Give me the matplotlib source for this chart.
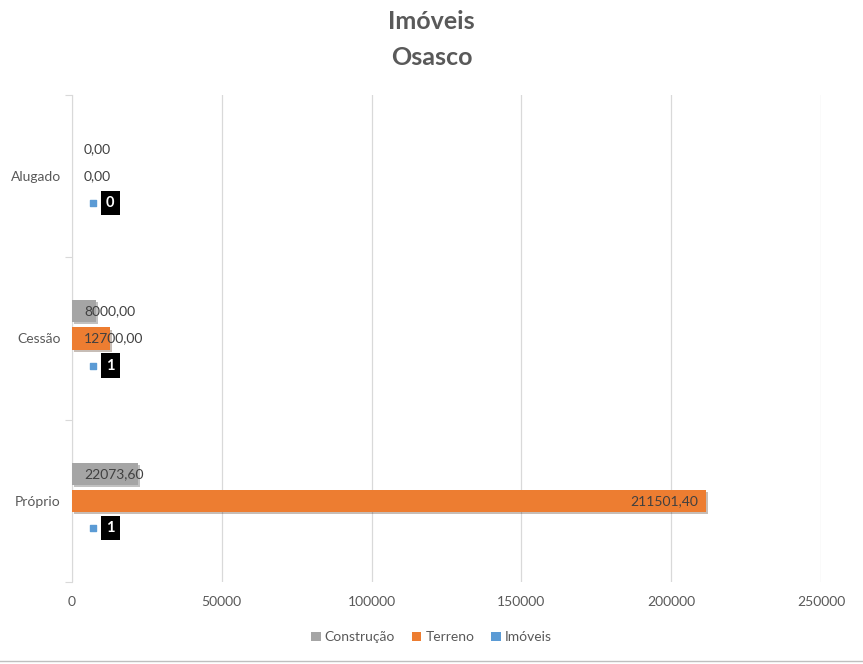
import numpy as np
import matplotlib.pyplot as plt
import matplotlib.patheffects as pe
from matplotlib.patches import Patch
from matplotlib.lines import Line2D

plt.rcParams['font.family'] = ['Lato', 'DejaVu Sans']

# Data
categories = ["Próprio", "Cessão", "Alugado"]
construcao = [22073.60, 8000.00, 0.00]
terreno = [211501.40, 12700.00, 0.00]
imoveis = [1, 1, 0]

series = ["Construção", "Terreno", "Imóveis"]
colors = ["#A5A5A5", "#ED7D31", "#5B9BD5"]
text_gray = "#595959"

fig = plt.figure(figsize=(8.63, 6.64), dpi=100)
ax = fig.add_axes([0.0834, 0.1235, 0.8679, 0.7335])

y = np.arange(len(categories))
off = 0.167
h = 0.136
shadow = [pe.SimplePatchShadow(offset=(1.5, -1.5), alpha=0.3), pe.Normal()]

ax.barh(y + off, construcao, height=h, color=colors[0], path_effects=shadow, zorder=3)
ax.barh(y, terreno, height=h, color=colors[1], path_effects=shadow, zorder=3)
ax.barh(y - off, imoveis, height=h, color=colors[2], path_effects=shadow, zorder=3)

def fmt(v):
    return f"{v:.2f}".replace(".", ",")

# data labels
for yi, v in zip(y, construcao):
    ax.text(4000, yi + off, fmt(v), ha="left", va="center", fontsize=10, color="#404040", zorder=5)
for yi, v in zip(y, terreno):
    if v > 100000:
        ax.text(v - 2500, yi, fmt(v), ha="right", va="center", fontsize=10, color="#404040", zorder=5)
    else:
        ax.text(4000, yi, fmt(v), ha="left", va="center", fontsize=10, color="#404040", zorder=5)
for yi, v in zip(y, imoveis):
    ax.scatter([7000], [yi - off], marker="s", s=24, color=colors[2], zorder=5)
    ax.text(12800, yi - off, str(v), ha="center", va="center", fontsize=10.5, fontweight="bold",
            color="white", zorder=5,
            bbox=dict(boxstyle="square,pad=0.35", facecolor="black", edgecolor="none"))

ax.set_xlim(0, 250000)
ax.set_ylim(-0.5, 2.5)
ax.set_xticks(np.arange(0, 250001, 50000))
ax.set_xticklabels([str(t) for t in range(0, 250001, 50000)])
ax.set_yticks([-0.5, 0.5, 1.5, 2.5])
ax.set_yticklabels([])
ax.set_yticks(y, minor=True)
ax.set_yticklabels(categories, minor=True)
ax.tick_params(axis="y", which="major", length=5, color="#D9D9D9")
ax.tick_params(axis="y", which="minor", length=0, labelsize=10, labelcolor=text_gray, pad=8)
ax.tick_params(axis="x", length=0, labelsize=10, labelcolor=text_gray, pad=10)

ax.grid(axis="x", color="#D9D9D9", linewidth=0.9, zorder=0)
ax.set_axisbelow(True)
for s in ["top", "right", "bottom"]:
    ax.spines[s].set_visible(False)
ax.spines["left"].set_color("#D9D9D9")

fig.text(0.5, 0.967, "Imóveis", ha="center", va="center", fontsize=18, fontweight="bold", color=text_gray)
fig.text(0.5, 0.914, "Osasco", ha="center", va="center", fontsize=18, fontweight="bold", color=text_gray)

handles = [Patch(facecolor=c, edgecolor="none") for c in colors]
fig.legend(handles, series, loc="center", bbox_to_anchor=(0.5, 0.04), ncol=3, frameon=False,
           fontsize=10, labelcolor=text_gray, handlelength=0.7, handleheight=0.7,
           handletextpad=0.3, columnspacing=1.2)

fig.add_artist(Line2D([0, 1], [0.004, 0.004], color="#BFBFBF", linewidth=1, transform=fig.transFigure))

fig.savefig("out.png", dpi=100)
